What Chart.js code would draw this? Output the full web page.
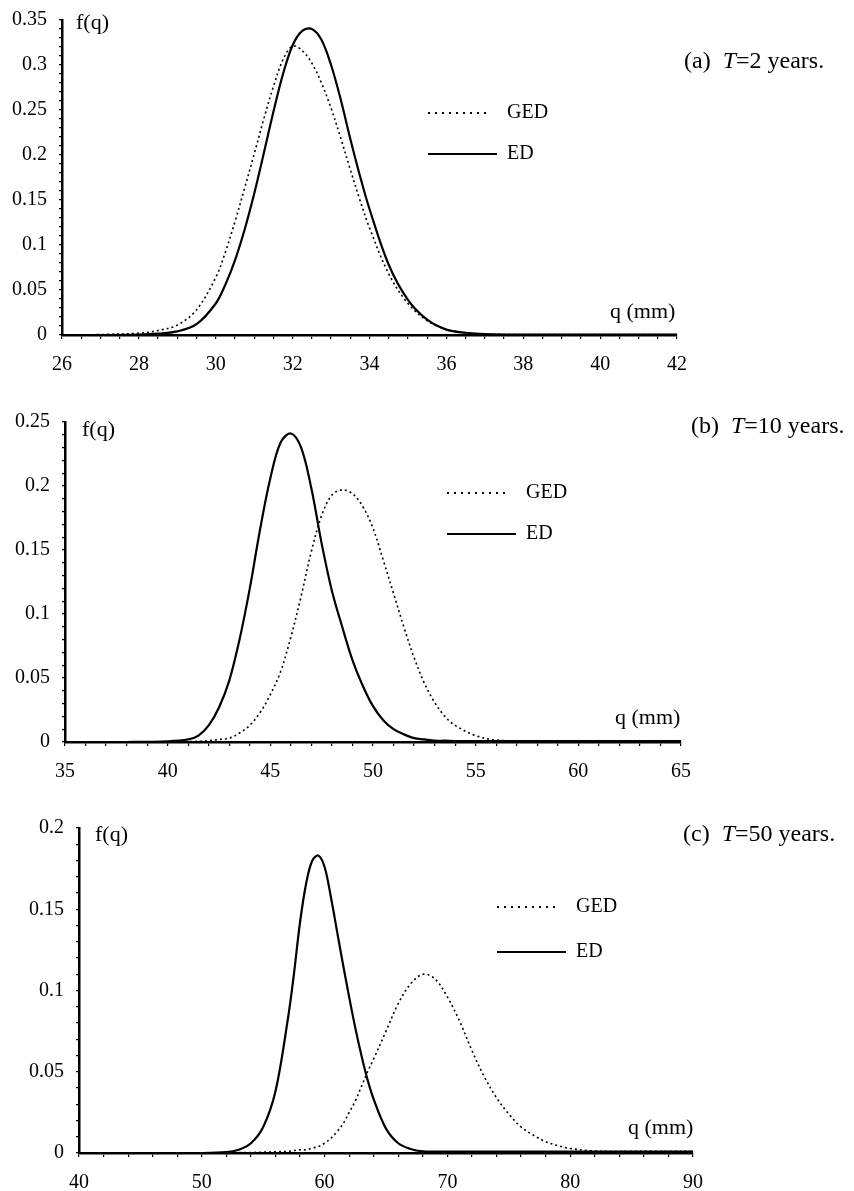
<!DOCTYPE html>
<html>
<head>
<meta charset="utf-8">
<script src="https://cdn.jsdelivr.net/npm/chart.js@4"></script>
<style>
  html, body { margin: 0; padding: 0; background: #fff; overflow: hidden; }
  #page { position: relative; width: 854px; height: 1191px; overflow: hidden; }
  .panel { position: absolute; left: 0; width: 854px; }
</style>
</head>
<body>
<div id="page">
  <div class="panel" style="top:-4px;height:384px"><canvas id="chartA"></canvas></div>
  <div class="panel" style="top:380px;height:400px"><canvas id="chartB"></canvas></div>
  <div class="panel" style="top:780px;height:411px"><canvas id="chartC"></canvas></div>
</div>
<script>
// (a) T = 2 years
const qA = [26, 27, 28, 28.5, 29, 29.5, 30, 30.25, 30.5, 30.75, 31, 31.25, 31.5, 31.75, 32, 32.25, 32.5, 32.75, 33, 33.25, 33.5, 33.75, 34, 34.5, 35, 35.5, 36, 36.5, 37, 38, 40, 42];
const gedA = [0, 0.0005, 0.002, 0.005, 0.011, 0.028, 0.064, 0.092, 0.126, 0.163, 0.201, 0.24, 0.276, 0.306, 0.321, 0.316, 0.302, 0.28, 0.252, 0.219, 0.184, 0.15, 0.119, 0.068, 0.035, 0.016, 0.006, 0.0025, 0.001, 0.0005, 0.0005, 0.0005];
const edA = [0, 0, 0.0005, 0.0015, 0.004, 0.012, 0.035, 0.056, 0.083, 0.117, 0.157, 0.202, 0.248, 0.29, 0.322, 0.338, 0.34, 0.328, 0.3, 0.262, 0.218, 0.177, 0.14, 0.078, 0.039, 0.017, 0.006, 0.0025, 0.001, 0.0005, 0.0005, 0.0005];

// (b) T = 10 years
const qB = [35, 38, 40, 41, 41.5, 42, 42.5, 43, 43.5, 44, 44.5, 45, 45.5, 46, 46.5, 47, 47.5, 48, 48.5, 49, 49.5, 50, 50.5, 51, 51.5, 52, 52.5, 53, 53.5, 54, 55, 56, 58, 60, 65];
const gedB = [0, 0, 0, 0.0003, 0.0005, 0.001, 0.002, 0.003, 0.007, 0.013, 0.023, 0.037, 0.055, 0.082, 0.114, 0.149, 0.177, 0.193, 0.197, 0.194, 0.184, 0.167, 0.142, 0.116, 0.09, 0.066, 0.046, 0.031, 0.02, 0.013, 0.005, 0.0015, 0.001, 0.001, 0.001];
const edB = [0, 0, 0.0005, 0.002, 0.005, 0.013, 0.027, 0.048, 0.08, 0.12, 0.166, 0.206, 0.234, 0.241, 0.23, 0.198, 0.155, 0.118, 0.09, 0.064, 0.044, 0.028, 0.017, 0.01, 0.006, 0.003, 0.002, 0.001, 0.001, 0.0008, 0.0008, 0.0008, 0.0008, 0.0008, 0.0008];

// (c) T = 50 years
const qC = [40, 50, 52, 53, 54, 55, 56, 57, 57.5, 58, 58.5, 59, 59.5, 60, 60.5, 61, 61.5, 62, 62.5, 63, 63.5, 64, 65, 66, 67, 68, 69, 70, 71, 72, 73, 74, 75, 76, 77, 78, 79, 80, 82, 85, 90];
const gedC = [0, 0, 0, 0.0002, 0.0003, 0.0005, 0.0008, 0.001, 0.0015, 0.002, 0.002, 0.003, 0.004, 0.006, 0.009, 0.013, 0.018, 0.025, 0.032, 0.041, 0.05, 0.058, 0.075, 0.092, 0.104, 0.11, 0.107, 0.096, 0.081, 0.063, 0.047, 0.034, 0.024, 0.016, 0.011, 0.007, 0.0045, 0.0028, 0.0012, 0.001, 0.001];
const edC = [0, 0, 0.0005, 0.002, 0.006, 0.016, 0.038, 0.082, 0.11, 0.142, 0.166, 0.18, 0.183, 0.176, 0.158, 0.137, 0.116, 0.096, 0.077, 0.06, 0.045, 0.033, 0.015, 0.006, 0.0025, 0.001, 0.0008, 0.0008, 0.0008, 0.0008, 0.0008, 0.0008, 0.0008, 0.0008, 0.0008, 0.0008, 0.0008, 0.0008, 0.0008, 0.0008, 0.0008];

Chart.defaults.font.family = '"Liberation Serif", "DejaVu Serif", serif';
Chart.defaults.color = '#000';

const SERIF = '"Liberation Serif", "DejaVu Serif", serif';

// draws f(q), q (mm), the small legend and the panel caption
const panelText = {
  id: 'panelText',
  afterDraw(chart, args, o) {
    const ctx = chart.ctx;
    ctx.save();
    ctx.fillStyle = '#000';
    ctx.strokeStyle = '#000';
    ctx.textBaseline = 'middle';
    ctx.textAlign = 'left';

    ctx.font = '22px ' + SERIF;
    ctx.fillText('f(q)', o.fq[0], o.fq[1]);
    ctx.fillText('q (mm)', o.qmm[0], o.qmm[1]);

    // legend
    const lx = o.legend[0], ly = o.legend[1];
    ctx.lineWidth = 2;
    ctx.setLineDash([2, 5]);
    ctx.beginPath(); ctx.moveTo(lx, ly); ctx.lineTo(lx + 62, ly); ctx.stroke();
    ctx.setLineDash([]);
    ctx.beginPath(); ctx.moveTo(lx, ly + o.gap); ctx.lineTo(lx + 69, ly + o.gap); ctx.stroke();
    ctx.font = '20px ' + SERIF;
    ctx.fillText('GED', lx + 79, ly);
    ctx.fillText('ED', lx + 79, ly + o.gap);

    // caption like "(a)  T=2 years."
    let x = o.cap[0];
    const y = o.cap[1];
    ctx.font = '24px ' + SERIF;
    ctx.fillText('(' + o.letter + ')', x, y);
    x += ctx.measureText('(' + o.letter + ')  ').width;
    ctx.font = 'italic 24px ' + SERIF;
    ctx.fillText('T', x, y);
    x += ctx.measureText('T').width;
    ctx.font = '24px ' + SERIF;
    ctx.fillText('=' + o.years + ' years.', x, y);
    ctx.restore();
  }
};

function makeChart(id, q, ged, ed, cfg) {
  const ctx = document.getElementById(id).getContext('2d');
  return new Chart(ctx, {
    type: 'line',
    data: {
      datasets: [
        {
          label: 'GED',
          data: q.map((v, i) => ({ x: v, y: ged[i] })),
          borderColor: '#000',
          borderWidth: 1.6,
          borderDash: [2, 3],
          pointRadius: 0,
          tension: 0.35
        },
        {
          label: 'ED',
          data: q.map((v, i) => ({ x: v, y: ed[i] })),
          borderColor: '#000',
          borderWidth: 2.2,
          pointRadius: 0,
          tension: 0.35
        }
      ]
    },
    options: {
      responsive: true,
      maintainAspectRatio: false,
      animation: false,
      layout: { padding: { left: 0, right: cfg.padRight, top: cfg.padTop, bottom: 0 } },
      plugins: {
        legend: { display: false },
        tooltip: { enabled: false },
        panelText: cfg.text
      },
      scales: {
        x: {
          type: 'linear',
          min: cfg.xMin,
          max: cfg.xMax,
          afterFit: s => { s.height = cfg.xHeight; },
          border: { display: true, color: '#000', width: 2.5 },
          grid: { display: true, drawOnChartArea: false, color: '#000', lineWidth: 1.2, tickLength: 4 },
          ticks: {
            stepSize: cfg.xMinor,
            autoSkip: false,
            maxRotation: 0,
            padding: 14,
            font: { size: 20 },
            callback: v => (Math.abs(v / cfg.xMajor - Math.round(v / cfg.xMajor)) < 1e-6 ? String(v) : '')
          }
        },
        y: {
          min: 0,
          max: cfg.yMax,
          afterFit: s => { s.width = cfg.yWidth; },
          border: { display: true, color: '#000', width: 2.5 },
          grid: { display: true, drawOnChartArea: false, color: '#000', lineWidth: 1.2, tickLength: 3 },
          ticks: {
            stepSize: 0.01,
            autoSkip: false,
            padding: 12,
            font: { size: 20 },
            callback: v => {
              const h = Math.round(v * 100);
              return h % 5 === 0 ? String(h / 100) : '';
            }
          }
        }
      }
    },
    plugins: [panelText]
  });
}

makeChart('chartA', qA, gedA, edA, {
  xMin: 26, xMax: 42, xMinor: 0.5, xMajor: 2, yMax: 0.35,
  padRight: 177, padTop: 22, xHeight: 45, yWidth: 62,
  text: { fq: [76, 27], qmm: [610, 316], legend: [428, 117], gap: 41, cap: [684, 66], letter: 'a', years: '2' }
});

makeChart('chartB', qB, gedB, edB, {
  xMin: 35, xMax: 65, xMinor: 1, xMajor: 5, yMax: 0.25,
  padRight: 173, padTop: 42, xHeight: 38, yWidth: 65,
  text: { fq: [82, 50], qmm: [615, 338], legend: [447, 113], gap: 41, cap: [691, 47], letter: 'b', years: '10' }
});

makeChart('chartC', qC, gedC, edC, {
  xMin: 40, xMax: 90, xMinor: 2, xMajor: 10, yMax: 0.2,
  padRight: 161, padTop: 48, xHeight: 38, yWidth: 79,
  text: { fq: [95, 55], qmm: [628, 348], legend: [497, 127], gap: 45, cap: [683, 55], letter: 'c', years: '50' }
});
</script>
</body>
</html>
